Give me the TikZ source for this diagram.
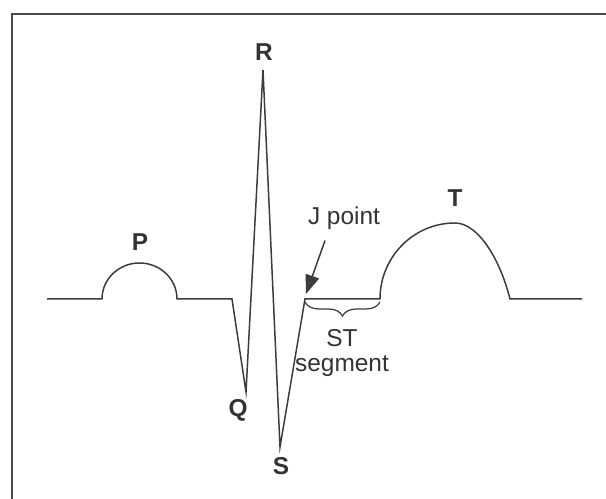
\documentclass[tikz,border=0pt]{standalone}
\usepackage{fontspec}
\setmainfont{Liberation Sans}
\usetikzlibrary{arrows.meta, decorations.pathreplacing}
\definecolor{inkline}{HTML}{3C3C3C}
\definecolor{inktext}{HTML}{333333}
\definecolor{inkframe}{HTML}{4A4A4A}
\newcommand{\wavelabel}[3]{%
  \node[text=inktext, font=\fontsize{13.9}{16}\selectfont\bfseries] (#1) at (#2) {#3};}

\begin{document}
\begin{tikzpicture}[x=0.02cm, y=0.02cm, font=\fontsize{13.9}{16}\selectfont]
  \useasboundingbox (0,0) rectangle (606,499);
  % frame
  \draw[inkframe, line width=1.1pt] (12,0) -- (12,485) -- (606,485);
  % trace
  \draw[inkline, line width=0.85pt]
    (47,200) -- (102,200) arc[start angle=180, end angle=0, x radius=37.5, y radius=36]
    -- (232,200) -- (246,107) -- (263,429) -- (280,52) -- (305,200) -- (380,200)
    arc[start angle=180, end angle=90, x radius=75, y radius=76]
    .. controls (478,276) and (500,240) .. (510,200)
    -- (582,200);
  \wavelabel{pl}{140,257}{P}
  \wavelabel{rl}{264,447}{R}
  \wavelabel{ql}{238,89}{Q}
  \wavelabel{sl}{281,33}{S}
  \wavelabel{tl}{455,301}{T}
  \node[text=inktext] (jlab) at (344,281) {J point};
  \node[text=inktext, align=center, font=\fontsize{13.9}{14.7}\selectfont] (stlab) at (342,146) {ST\\segment};
  \coordinate (J) at (306,205);
  \coordinate (sta) at (305,197);
  \coordinate (stb) at (380,197);
  \draw[inkline, line width=0.85pt, -{Triangle[length=0.38cm, width=0.28cm]}]
    ([xshift=-0.38cm, yshift=-0.1cm]jlab.south) -- (J);
  \draw[inkline, line width=0.7pt, decorate, decoration={brace, amplitude=0.28cm}] (stb) -- (sta);
\end{tikzpicture}
\end{document}
